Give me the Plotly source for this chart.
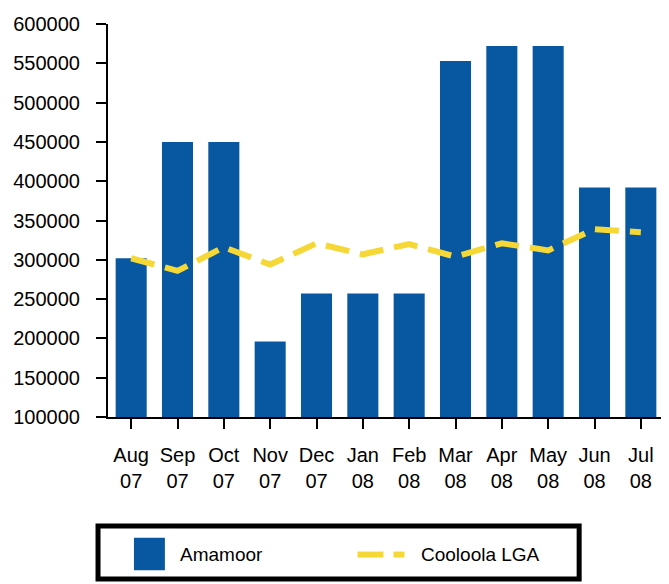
import plotly.graph_objects as go

months = ["Aug<br>07", "Sep<br>07", "Oct<br>07", "Nov<br>07", "Dec<br>07", "Jan<br>08",
          "Feb<br>08", "Mar<br>08", "Apr<br>08", "May<br>08", "Jun<br>08", "Jul<br>08"]
amamoor = [302000, 450000, 450000, 196000, 257000, 257000, 257000, 553000, 572000, 572000, 392000, 392000]
cooloola = [302000, 286000, 316000, 294000, 321000, 307000, 320000, 304000, 321000, 312000, 339000, 335000]
y_ticks = [100000, 150000, 200000, 250000, 300000, 350000, 400000, 450000, 500000, 550000, 600000]
series_names = ["Amamoor", "Cooloola LGA"]

BLUE = "#0857a1"
YELLOW = "#f5d835"
FONT = "Liberation Sans, Arial, sans-serif"

fig = go.Figure()
fig.add_trace(go.Bar(x=list(range(len(months))), y=amamoor, name=series_names[0],
                     marker=dict(color=BLUE, line=dict(width=0)), width=0.67,
                     showlegend=False))
fig.add_trace(go.Scatter(x=list(range(len(months))), y=cooloola, name=series_names[1],
                         mode="lines", line=dict(color=YELLOW, width=6, dash="24px,11px"),
                         showlegend=False))

# page body has an 8px margin, so the figure is offset by 8px (left and top)
OFF = 8
W, H = 669 - OFF, 584 - OFF
L, R, T, B = 107 - OFF, 5, 17 - OFF, 167
pw = W - L - R
ph = H - T - B

def px(x):
    return (x - OFF - L) / pw

def py(y):
    return (H - B - (y - OFF)) / ph

shapes = [
    dict(type="line", xref="paper", yref="paper", x0=1, x1=1, y0=0, y1=1,
         line=dict(color="#222222", width=1.5)),
    dict(type="rect", xref="paper", yref="paper", x0=px(97), x1=px(579), y0=py(582), y1=py(528),
         line=dict(color="black", width=5), fillcolor="white", layer="below"),
    dict(type="rect", xref="paper", yref="paper", x0=px(133), x1=px(164), y0=py(573), y1=py(540),
         line=dict(width=0), fillcolor=BLUE),
    dict(type="line", xref="paper", yref="paper", x0=px(357), x1=px(383), y0=py(557), y1=py(557),
         line=dict(color=YELLOW, width=6)),
    dict(type="line", xref="paper", yref="paper", x0=px(393), x1=px(404), y0=py(557), y1=py(557),
         line=dict(color=YELLOW, width=6)),
]
annotations = [
    dict(xref="paper", yref="paper", x=px(177), y=py(557), text=series_names[0], showarrow=False,
         xanchor="left", yanchor="middle", font=dict(family=FONT, size=19, color="black")),
    dict(xref="paper", yref="paper", x=px(419), y=py(557), text=series_names[1], showarrow=False,
         xanchor="left", yanchor="middle", font=dict(family=FONT, size=19, color="black")),
]

fig.update_layout(
    width=W, height=H,
    margin=dict(l=L, r=R, t=T, b=B, pad=0),
    paper_bgcolor="white", plot_bgcolor="white",
    font=dict(family=FONT, size=20, color="black"),
    bargap=0.33,
    shapes=shapes, annotations=annotations,
    xaxis=dict(range=[-0.5, len(months) - 0.5], tickmode="array",
               tickvals=list(range(len(months))), ticktext=months,
               showline=True, linecolor="black", linewidth=2,
               ticks="outside", ticklen=10, tickwidth=2, tickcolor="black",
               ticklabelstandoff=9,
               showgrid=False, zeroline=False, fixedrange=True,
               tickfont=dict(family=FONT, size=20, color="black")),
    yaxis=dict(range=[100000, 600000], tickmode="array", tickvals=y_ticks,
               ticktext=[str(v) for v in y_ticks],
               showline=True, linecolor="black", linewidth=2,
               ticks="outside", ticklen=10, tickwidth=2, tickcolor="black",
               ticklabelstandoff=12, ticklabeloverflow="allow",
               showgrid=False, zeroline=False, fixedrange=True,
               tickfont=dict(family=FONT, size=20, color="black")),
)

fig.write_html("out.html")
